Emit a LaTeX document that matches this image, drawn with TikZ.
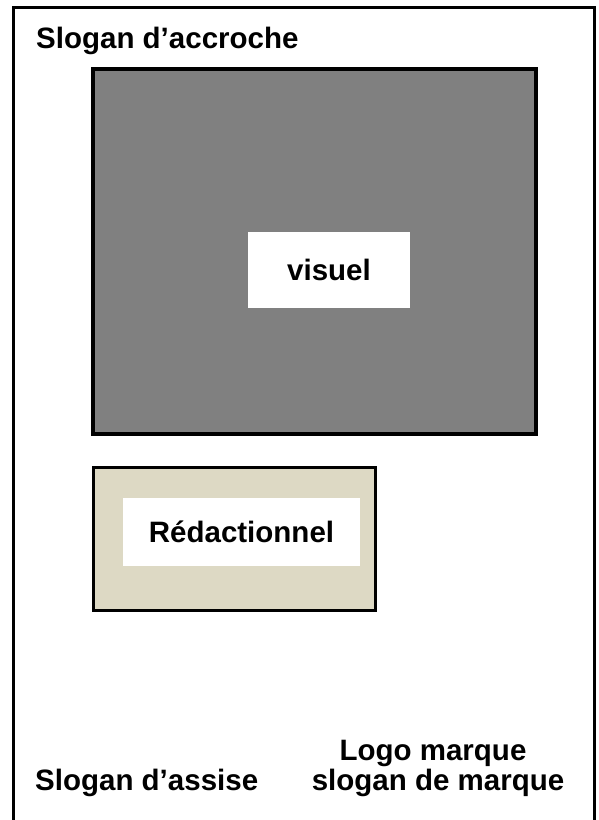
\documentclass[tikz,border=0pt]{standalone}
\usepackage{fontspec}
\setmainfont{Liberation Sans}
\definecolor{visgray}{RGB}{128,128,128}
\definecolor{beige}{RGB}{221,217,196}
\begin{document}
\begin{tikzpicture}[x=1pt,y=-1pt,
  frame/.style={draw=black,line width=3.5pt},
  lbl/.style={font=\fontsize{29.5}{34}\selectfont\bfseries,inner sep=0pt},
  whitebox/.style={fill=white,draw=none,inner sep=0pt}]
\useasboundingbox (0,0) rectangle (599,820);
\draw[frame,fill=white] (13.5,7.5) rectangle (594.5,830);
\draw[frame,fill=visgray] (93,69) rectangle (536,434);
\node[whitebox,minimum width=162pt,minimum height=76pt] (vis) at (329,270) {};
\node[lbl] (vist) at (vis.center) {visuel};
\draw[line width=3pt,draw=black,fill=beige] (93,467) rectangle (375,610);
\node[whitebox,minimum width=237pt,minimum height=68pt] (red) at (241.5,532) {};
\node[lbl] (redt) at (red.center) {Rédactionnel};
\node[lbl,anchor=base west] (acc) at (36,48) {Slogan d’accroche};
\node[lbl,anchor=base west] (ass) at (35,790) {Slogan d’assise};
\node[lbl,anchor=base] (logo) at (433,760) {Logo marque};
\node[lbl,anchor=base] (slm) at (438,790) {slogan de marque};
\end{tikzpicture}
\end{document}
